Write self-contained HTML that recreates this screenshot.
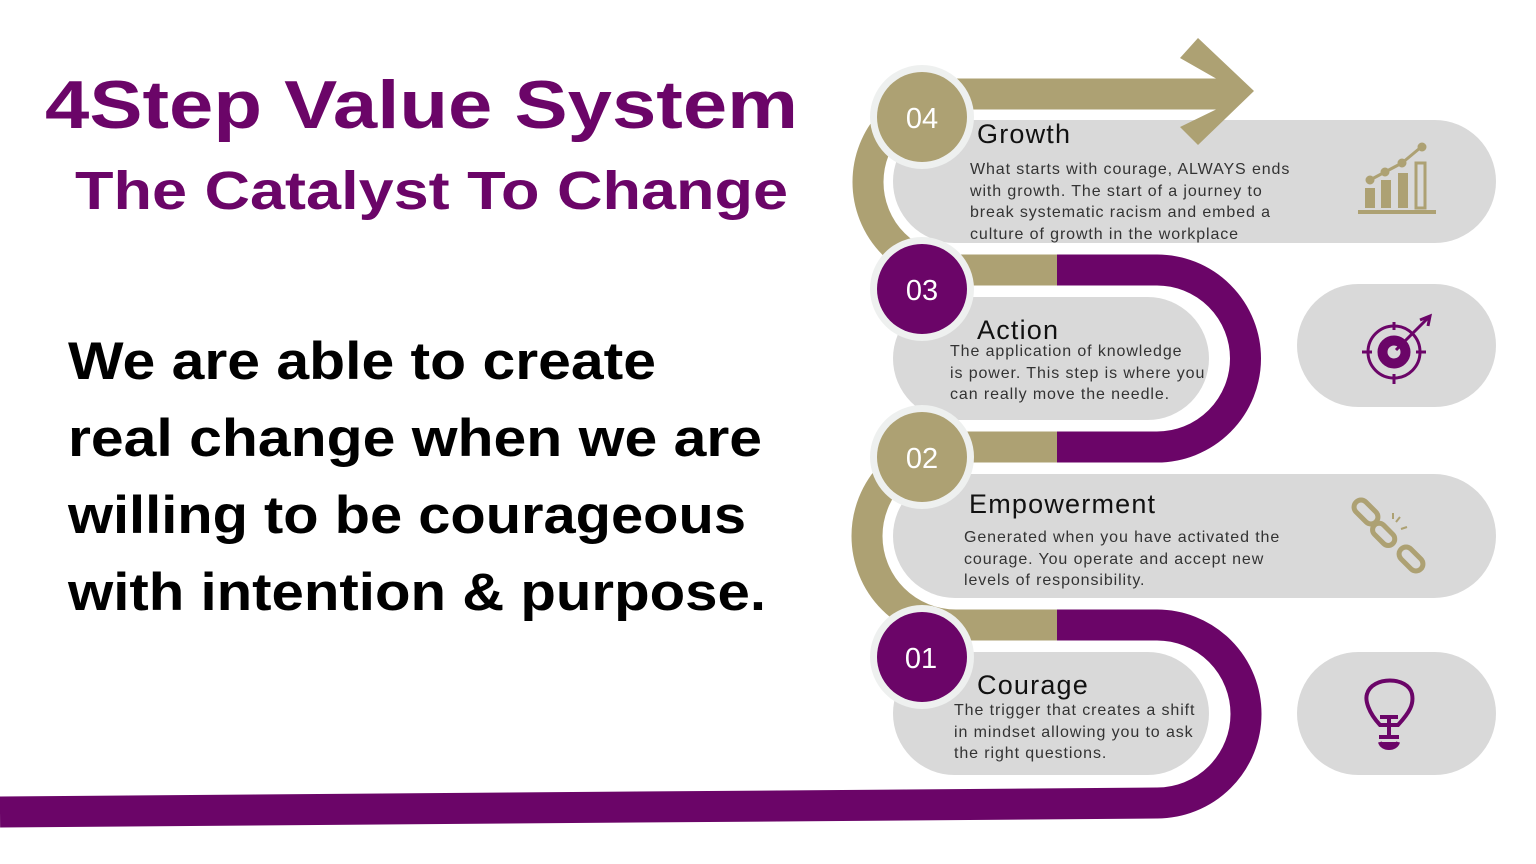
<!DOCTYPE html>
<html><head><meta charset="utf-8"><style>
html,body{margin:0;padding:0;background:#fff;}
svg{display:block;}
text{font-family:"Liberation Sans",sans-serif;}
</style></head><body>
<svg width="1536" height="864" viewBox="0 0 1536 864" xmlns="http://www.w3.org/2000/svg">
<text x="45" y="128" font-size="68" font-weight="bold" fill="#6b0568" textLength="753" lengthAdjust="spacingAndGlyphs">4Step Value System</text>
<text x="75" y="209" font-size="54" font-weight="bold" fill="#6b0568" textLength="713" lengthAdjust="spacingAndGlyphs">The Catalyst To Change</text>
<g font-size="53" font-weight="bold" fill="#000">
<text x="68" y="379" textLength="588" lengthAdjust="spacingAndGlyphs">We are able to create</text>
<text x="68" y="456" textLength="694" lengthAdjust="spacingAndGlyphs">real change when we are</text>
<text x="68" y="533" textLength="678" lengthAdjust="spacingAndGlyphs">willing to be courageous</text>
<text x="68" y="610" textLength="698" lengthAdjust="spacingAndGlyphs">with intention &amp; purpose.</text>
</g>

<g fill="#d9d9d9">
<rect x="893" y="120" width="603" height="123" rx="61.5"/>
<rect x="893" y="297" width="316" height="123" rx="61.5"/>
<rect x="1297" y="284" width="199" height="123" rx="61.5"/>
<rect x="893" y="474" width="603" height="124" rx="62"/>
<rect x="893" y="652" width="316" height="123" rx="61.5"/>
<rect x="1297" y="652" width="199" height="123" rx="61.5"/>
</g>

<g fill="none" stroke="#fff" stroke-width="44">
<path d="M956 270 A88 88 0 0 1 956 94 M956 447 A89 89 0 0 0 956 625"/>
<path d="M922 270 H1157 A88.5 88.5 0 0 1 1157 447 H922 M922 625 H1157 A89 89 0 0 1 1157 803 H0"/>
</g>
<g fill="none" stroke-width="31">
<path d="M922 270 H956 A88 88 0 0 1 956 94" stroke="#ada173"/>
<path d="M922 447 H956 A89 89 0 0 0 956 625 H922" stroke="#ada173"/>
<path d="M922 270 H1058 M922 447 H1058 M922 625 H1058" stroke="#ada173"/>
<path d="M1057 270 H1157 A88.5 88.5 0 0 1 1157 447 H1057" stroke="#6b0568"/>
<path d="M1057 625 H1157 A89 89 0 0 1 1157 803 L0 812" stroke="#6b0568"/>
</g>
<polygon points="940,78.5 1216,78.5 1180,58 1198,38 1254,91 1198,145 1180,127 1216,109.5 940,109.5" fill="#ada173"/>

<g>
<circle cx="922" cy="117" r="52" fill="#eef0ef"/><circle cx="922" cy="117" r="45" fill="#ada173"/>
<circle cx="922" cy="289" r="52" fill="#eef0ef"/><circle cx="922" cy="289" r="45" fill="#6b0568"/>
<circle cx="922" cy="457" r="52" fill="#eef0ef"/><circle cx="922" cy="457" r="45" fill="#ada173"/>
<circle cx="922" cy="657" r="52" fill="#eef0ef"/><circle cx="922" cy="657" r="45" fill="#6b0568"/>
</g>
<g font-size="29" fill="#fff" text-anchor="middle">
<text x="922" y="128">04</text><text x="922" y="300">03</text><text x="922" y="468">02</text><text x="921" y="668">01</text>
</g>

<g fill="#111" font-size="27" letter-spacing="1.2">
<text x="977" y="143">Growth</text>
<text x="977" y="339">Action</text>
<text x="969" y="513">Empowerment</text>
<text x="977" y="694">Courage</text>
</g>
<g fill="#333" font-size="16" letter-spacing="0.9">
<text x="970" y="174">What starts with courage, ALWAYS ends</text>
<text x="970" y="196">with growth. The start of a journey to</text>
<text x="970" y="217">break systematic racism and embed a</text>
<text x="970" y="239">culture of growth in the workplace</text>
<text x="950" y="356">The application of knowledge</text>
<text x="950" y="378">is power. This step is where you</text>
<text x="950" y="399">can really move the needle.</text>
<text x="964" y="542">Generated when you have activated the</text>
<text x="964" y="564">courage. You operate and accept new</text>
<text x="964" y="585">levels of responsibility.</text>
<text x="954" y="715">The trigger that creates a shift</text>
<text x="954" y="737">in mindset allowing you to ask</text>
<text x="954" y="758">the right questions.</text>
</g>

<g fill="#ada173" stroke="#ada173">
<rect x="1358" y="210" width="78" height="4" stroke="none"/>
<rect x="1365" y="188" width="10" height="20" stroke="none"/>
<rect x="1381" y="180" width="10" height="28" stroke="none"/>
<rect x="1398" y="173" width="10" height="35" stroke="none"/>
<rect x="1416" y="163" width="9" height="45" fill="none" stroke-width="3"/>
<polyline points="1370,180 1385,172 1402,163 1420,148" fill="none" stroke-width="3"/>
<circle cx="1370" cy="180" r="4"/><circle cx="1385" cy="172" r="4"/><circle cx="1402" cy="163" r="4"/><circle cx="1422" cy="147" r="4"/>
</g>
<g stroke="#6b0568" fill="none" stroke-width="3">
<circle cx="1394" cy="352" r="26"/>
<circle cx="1394" cy="352" r="15" fill="#6b0568"/>
<circle cx="1394" cy="352" r="5" fill="#d9d9d9" stroke="#d9d9d9"/>
<path d="M1394 322 V330 M1394 374 V384 M1362 352 H1372 M1416 352 H1426"/>
<path d="M1396 350 L1428 318 M1420 320 L1430 316 L1428 326"/>
</g>
<g stroke="#ada173" fill="none" stroke-width="5">
<rect x="1352" y="505" width="28" height="14" rx="7" transform="rotate(45 1366 512)"/>
<rect x="1371" y="528" width="26" height="13" rx="6.5" transform="rotate(45 1384 534)"/>
<rect x="1397" y="552" width="28" height="14" rx="7" transform="rotate(45 1411 559)"/>
<path d="M1396 522 l4 -5 M1401 529 l6 -2 M1393 519 l0 -6" stroke-width="2"/>
</g>
<g stroke="#6b0568" fill="none" stroke-width="4">
<path d="M1380 725 C1368 712 1365 700 1367 694 C1372 676 1408 676 1412 694 C1414 704 1410 712 1398 725 Z"/>
<path d="M1380 717 H1398 M1389 717 V735"/>
<path d="M1379 737 H1399 M1380 742 C1382 750 1396 750 1398 742" fill="#6b0568"/>
</g>
</svg>
</body></html>
